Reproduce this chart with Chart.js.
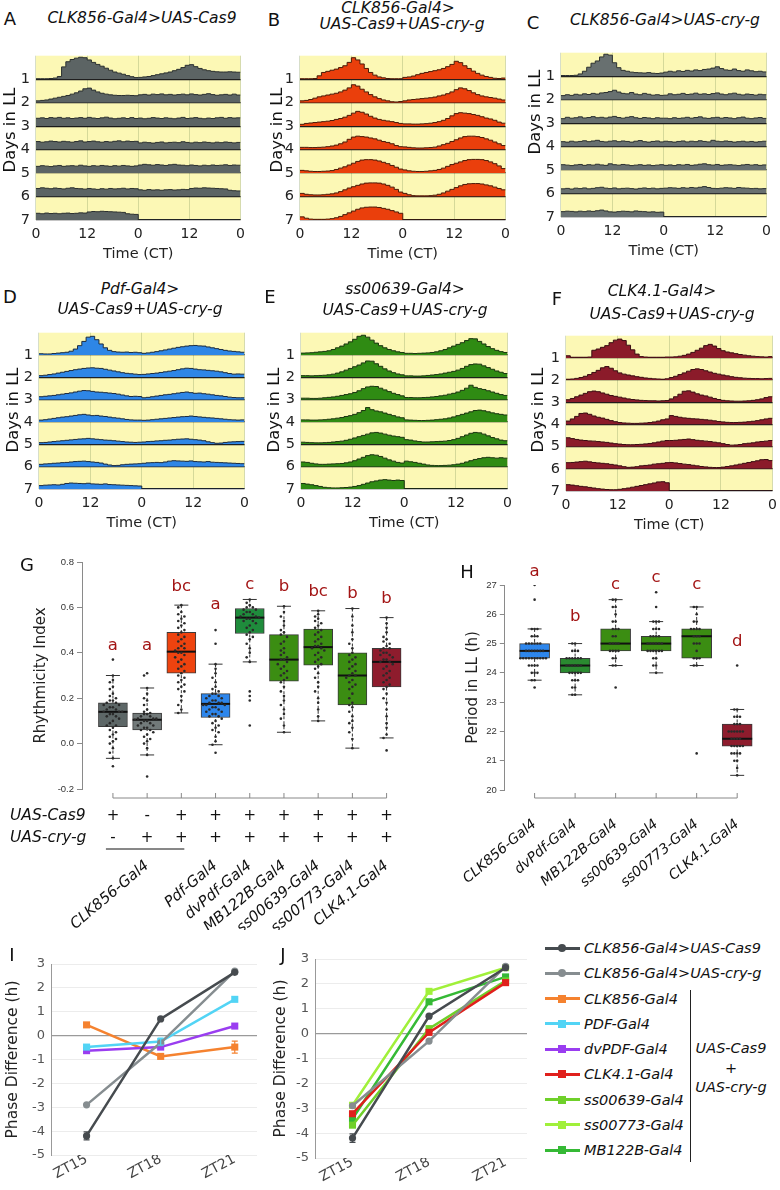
<!DOCTYPE html>
<html>
<head>
<meta charset="utf-8">
<title>Locomotor rhythms in LL</title>
<script src="https://cdn.jsdelivr.net/npm/chart.js@4.4.1/dist/chart.umd.min.js"></script>
<style>
  body { margin: 0; width: 780px; height: 1190px; position: relative; overflow: hidden; background: #fff;
         font-family: "DejaVu Sans", sans-serif; color: #111; }
  canvas { position: absolute; }
  .lbl { position: absolute; white-space: nowrap; transform: translate(-50%, -50%); line-height: 1; }
</style>
</head>
<body>
<script>
// ---- actograms: hourly activity, one array per day (days 1-7), double plotted ----
const timeTicks = [0, 12, 24, 36, 48];
const timeLabels = ['0', '12', '0', '12', '0'];
const rowLabels = ['1', '2', '3', '4', '5', '6', '7'];

const actoA = [
  [0.2,0.2,0.2,0.3,0.5,1.2,5.5,7.8,8.8,9.4,9.8,9.6,8.6,7.5,6.6,5.8,4.9,4.0,3.2,2.7,2.2,1.6,1.1,0.7],
  [0.8,1.0,1.2,1.6,2.0,2.4,2.8,3.2,3.8,4.4,5.2,6.2,6.5,5.6,4.8,4.2,3.8,3.5,3.3,3.2,3.2,3.3,3.2,3.1],
  [3.5,3.7,3.4,3.8,3.6,3.9,3.5,3.7,3.4,3.6,3.8,3.5,3.9,3.6,3.4,3.7,4.0,3.6,3.3,3.5,3.7,3.4,3.8,3.4],
  [3.6,3.3,3.5,3.8,3.6,3.4,3.7,3.5,3.3,3.6,3.9,3.4,3.6,3.8,3.5,3.3,3.6,3.4,3.7,3.9,3.5,3.8,3.6,3.7],
  [3.0,3.3,3.1,2.9,3.2,3.4,3.0,3.2,3.3,3.1,3.5,3.2,3.0,3.3,3.1,3.4,3.2,3.0,3.3,3.1,3.4,3.2,3.0,3.2],
  [3.6,3.9,3.7,3.5,3.8,3.6,3.4,3.7,3.9,3.6,3.5,3.3,3.6,3.4,3.2,3.5,3.3,3.6,3.4,3.5,3.7,3.4,3.6,3.5],
  [3.0,2.8,3.1,2.9,3.0,2.8,3.0,3.1,2.9,3.0,3.2,3.1,3.6,3.8,3.7,3.9,3.8,3.7,3.6,3.5,3.4,2.8,2.6,2.5]
];
const actoB = [
  [0.2,0.2,0.2,0.3,1.5,3.0,3.5,4.0,4.5,5.2,6.0,7.5,9.6,8.6,6.8,4.8,3.0,1.8,1.0,0.6,0.3,0.2,0.2,0.2],
  [0.8,1.0,1.4,2.0,2.6,3.0,3.4,3.8,4.2,4.8,5.6,6.6,8.0,7.4,6.0,4.8,3.6,2.6,1.8,1.2,0.8,0.4,0.3,0.5],
  [0.8,1.2,1.4,1.6,1.8,2.0,2.2,2.5,3.0,3.4,4.0,4.8,5.8,6.6,6.2,5.4,4.4,3.6,3.0,2.6,2.3,2.0,1.6,1.2],
  [1.0,1.0,0.9,0.9,1.0,1.1,1.3,1.6,2.0,2.6,3.4,4.6,5.6,6.0,5.8,5.6,5.2,4.8,4.2,3.6,3.2,2.6,1.8,1.3],
  [1.2,1.0,0.8,0.7,0.7,0.8,0.9,1.1,1.6,2.2,2.8,3.6,4.4,5.2,5.8,6.0,6.0,5.8,5.4,4.8,4.2,3.4,2.6,1.8],
  [1.4,1.0,0.8,0.7,0.7,0.8,1.0,1.2,1.6,2.2,3.0,3.8,4.4,5.0,5.6,6.0,6.1,6.1,6.0,5.6,5.0,4.2,3.2,2.0],
  [1.4,0.8,0.4,0.3,0.3,0.3,0.4,0.6,1.0,1.6,2.4,3.2,4.0,4.8,5.4,5.7,5.8,5.8,5.6,5.2,4.8,4.2,3.6,3.0]
];
const actoC = [
  [0.3,0.3,0.3,0.4,1.0,2.2,4.0,5.8,6.8,8.6,9.8,9.4,6.0,3.8,2.6,2.2,1.8,1.6,1.5,1.4,1.6,1.3,1.2,1.4],
  [1.8,2.2,1.9,2.4,2.1,2.6,2.3,2.8,2.5,3.0,3.2,3.6,4.2,3.4,2.8,2.6,3.2,2.5,2.2,2.8,2.4,2.0,2.2,1.9],
  [2.0,2.6,2.2,2.4,2.8,2.3,2.5,2.9,2.4,2.6,2.3,2.7,3.0,2.5,2.2,2.6,2.9,2.4,2.1,2.5,2.3,2.0,2.4,2.2],
  [2.2,2.0,2.4,2.1,2.3,2.6,2.2,2.5,2.8,2.3,2.1,2.4,2.6,2.2,2.5,2.3,2.0,2.4,2.7,2.2,2.0,2.3,2.5,2.1],
  [2.4,2.2,2.0,2.3,2.5,2.1,2.4,2.2,2.6,2.3,2.1,2.8,2.4,2.2,2.5,2.3,2.0,2.2,2.4,2.1,2.3,2.0,2.2,2.4],
  [2.1,2.3,2.0,2.4,2.2,2.5,2.1,2.3,2.6,2.8,2.4,2.2,2.5,2.1,2.3,2.4,2.2,2.0,2.3,2.5,2.2,2.4,2.1,2.3],
  [2.4,2.6,2.5,2.3,2.6,2.4,2.7,2.5,2.8,3.1,2.7,2.3,2.2,2.4,2.6,2.5,2.3,2.7,2.5,2.4,2.2,2.3,2.1,2.2]
];
const actoD = [
  [0.6,0.5,0.5,0.7,0.9,1.1,1.3,1.8,2.8,4.4,6.4,8.4,8.8,7.2,5.2,3.4,2.2,1.6,1.4,1.3,1.4,1.2,1.3,1.1],
  [0.8,1.0,1.3,1.6,2.0,2.4,2.8,3.2,3.6,3.9,4.2,4.4,4.5,4.3,4.2,3.8,3.4,3.0,2.6,2.2,1.9,1.7,1.5,1.3],
  [1.4,1.6,1.8,2.0,2.3,2.6,2.9,3.2,3.6,4.0,4.3,4.2,3.9,3.6,3.5,3.3,3.1,2.9,2.6,2.2,1.8,1.5,1.6,1.5],
  [0.9,1.1,1.4,1.7,2.0,2.3,2.5,2.8,3.1,3.4,3.6,3.3,3.0,3.1,2.8,2.6,2.3,2.0,1.8,1.5,1.2,1.0,0.9,0.9],
  [0.8,0.9,1.1,1.3,1.5,1.7,1.9,2.1,2.3,2.5,2.6,2.8,2.6,2.4,2.2,2.0,1.9,1.7,1.5,1.3,1.1,1.0,0.9,1.0],
  [1.1,1.3,1.4,1.6,1.7,1.9,2.0,2.2,2.4,2.5,2.6,2.4,2.2,2.0,1.7,1.2,0.8,0.5,0.6,0.9,1.1,1.2,1.3,1.4],
  [1.6,1.8,1.9,2.0,1.9,2.2,2.6,2.8,2.7,2.6,2.5,2.7,2.4,2.3,2.2,2.4,2.1,2.0,1.9,1.8,1.7,1.6,1.5,1.4]
];
const actoE = [
  [0.9,1.0,1.1,1.3,1.5,1.7,2.0,2.6,3.4,4.2,5.2,6.2,7.4,8.8,9.3,8.4,7.0,5.6,4.4,3.4,2.6,2.0,1.5,1.2],
  [0.8,0.8,0.7,0.8,0.9,1.0,1.2,1.5,2.0,2.6,3.4,4.2,5.0,5.8,6.8,7.7,7.6,6.4,5.2,4.0,3.0,2.2,1.6,1.2],
  [0.7,0.7,0.6,0.6,0.7,0.9,1.1,1.3,1.6,2.0,2.4,2.8,3.4,4.2,5.2,6.0,6.3,6.2,5.4,4.6,3.8,3.0,2.4,1.8],
  [1.0,1.0,0.9,0.9,1.0,1.1,1.3,1.5,1.8,2.1,2.6,3.0,3.6,4.4,5.4,6.8,5.8,5.2,4.8,4.2,3.6,3.0,2.4,2.0],
  [1.0,0.9,0.8,0.7,0.7,0.8,0.9,1.1,1.3,1.5,1.9,2.4,3.0,3.6,4.2,4.8,5.4,5.6,5.3,4.8,4.3,3.9,3.6,3.3],
  [2.2,2.0,1.6,1.3,1.1,1.1,1.2,1.3,1.4,1.5,1.8,2.2,2.8,3.6,4.4,5.2,5.6,5.4,4.8,4.0,3.2,2.6,2.0,1.7],
  [2.6,2.3,2.0,1.6,1.2,0.8,0.6,0.5,0.5,0.6,0.7,0.9,1.2,1.6,2.2,2.8,3.4,3.8,4.2,4.4,4.2,4.0,4.2,4.0]
];
const actoF = [
  [1.0,0.3,0.3,0.3,0.3,0.4,3.6,4.2,5.0,5.8,7.2,8.4,8.9,8.2,6.0,3.8,1.8,0.6,0.4,0.3,0.3,0.3,0.3,0.4],
  [0.4,0.5,0.8,1.2,1.8,2.6,3.6,4.6,5.8,6.4,5.6,4.4,3.4,2.8,2.4,2.0,1.6,1.3,1.0,0.8,0.6,0.5,0.4,0.6],
  [1.2,1.8,2.6,3.4,4.2,5.0,5.3,5.0,4.4,3.8,3.2,2.8,2.4,2.0,1.6,1.3,1.1,0.9,0.8,0.7,0.7,0.6,0.7,0.8],
  [1.6,2.6,3.8,5.2,5.4,4.8,4.0,3.4,3.0,2.4,1.8,1.3,0.9,0.7,0.6,0.5,0.5,0.6,0.7,0.9,1.2,1.6,2.2,2.6],
  [4.2,3.8,3.4,3.1,2.9,2.7,2.6,2.4,2.2,2.0,1.7,1.4,1.2,1.0,0.9,0.9,1.0,1.1,1.3,1.5,1.8,2.2,2.6,2.9],
  [2.9,3.0,3.2,3.4,3.6,3.3,3.0,2.8,2.6,2.4,2.1,1.8,1.4,1.0,0.7,0.8,1.0,1.4,1.6,1.8,2.2,2.4,2.6,2.9],
  [3.0,2.8,2.5,2.2,2.0,1.7,1.4,1.1,0.9,0.7,0.6,0.6,0.8,1.1,1.4,1.8,2.2,2.6,3.0,3.4,3.8,4.3,4.4,3.9]
];

// ---- G: rhythmicity index ----
const rhythmGroups = ['', 'CLK856-Gal4', '', 'Pdf-Gal4', 'dvPdf-Gal4', 'MB122B-Gal4', 'ss00639-Gal4', 'ss00773-Gal4', 'CLK4.1-Gal4'];
const rhythmCas9 = ['+', '-', '+', '+', '+', '+', '+', '+', '+'];
const rhythmCry = ['-', '+', '+', '+', '+', '+', '+', '+', '+'];
const rhythmQ1 = [0.075, 0.06, 0.31, 0.115, 0.485, 0.275, 0.345, 0.17, 0.25];
const rhythmMed = [0.14, 0.105, 0.405, 0.175, 0.555, 0.37, 0.425, 0.30, 0.36];
const rhythmQ3 = [0.18, 0.135, 0.49, 0.22, 0.595, 0.48, 0.505, 0.40, 0.42];
const rhythmLo = [-0.065, -0.05, 0.135, -0.005, 0.36, 0.05, 0.10, -0.02, 0.025];
const rhythmHi = [0.30, 0.245, 0.61, 0.35, 0.635, 0.605, 0.585, 0.595, 0.555];
const rhythmLetters = ['a', 'a', 'bc', 'a', 'c', 'b', 'bc', 'b', 'b'];
const rhythmLetterY = [0.43, 0.43, 0.69, 0.61, 0.70, 0.69, 0.67, 0.66, 0.64];
const rhythmPoints = [
  [0.37,0.30,0.28,0.27,0.25,0.24,0.22,0.21,0.20,0.19,0.19,0.18,0.18,0.17,0.17,0.16,0.16,0.15,0.15,0.14,0.14,0.14,0.13,0.13,0.12,0.12,0.11,0.10,0.09,0.08,0.08,0.07,0.06,0.05,0.04,0.03,0.02,0.01,0.0,-0.02,-0.04,-0.065,-0.10],
  [0.31,0.30,0.245,0.22,0.20,0.19,0.17,0.15,0.14,0.135,0.13,0.13,0.12,0.12,0.11,0.11,0.11,0.105,0.10,0.10,0.09,0.09,0.08,0.08,0.07,0.07,0.06,0.06,0.05,0.04,0.03,0.02,0.01,0.0,-0.02,-0.05,-0.145],
  [0.61,0.60,0.58,0.57,0.56,0.55,0.54,0.53,0.52,0.51,0.50,0.49,0.48,0.47,0.46,0.45,0.44,0.43,0.42,0.42,0.41,0.40,0.40,0.39,0.38,0.37,0.36,0.35,0.34,0.33,0.32,0.31,0.30,0.29,0.28,0.27,0.26,0.25,0.24,0.23,0.21,0.19,0.17,0.15,0.135],
  [0.50,0.44,0.35,0.33,0.31,0.29,0.27,0.25,0.24,0.23,0.22,0.22,0.21,0.21,0.20,0.20,0.19,0.19,0.18,0.18,0.18,0.17,0.17,0.17,0.16,0.16,0.15,0.15,0.14,0.14,0.13,0.13,0.12,0.12,0.11,0.10,0.09,0.08,0.07,0.06,0.05,0.03,0.01,-0.005,-0.04],
  [0.635,0.62,0.61,0.60,0.60,0.59,0.59,0.58,0.58,0.57,0.57,0.56,0.56,0.555,0.55,0.55,0.54,0.54,0.53,0.52,0.51,0.50,0.49,0.48,0.47,0.46,0.44,0.42,0.40,0.38,0.36,0.23,0.21,0.19,0.08],
  [0.605,0.58,0.56,0.54,0.52,0.50,0.49,0.48,0.47,0.45,0.44,0.42,0.41,0.40,0.39,0.38,0.37,0.37,0.36,0.35,0.34,0.33,0.32,0.31,0.30,0.29,0.28,0.27,0.25,0.23,0.21,0.19,0.17,0.15,0.13,0.11,0.08,0.05],
  [0.585,0.57,0.56,0.55,0.54,0.53,0.52,0.51,0.50,0.49,0.48,0.47,0.46,0.45,0.44,0.43,0.43,0.42,0.42,0.41,0.40,0.39,0.38,0.37,0.36,0.35,0.34,0.33,0.31,0.29,0.27,0.25,0.23,0.20,0.18,0.15,0.12,0.10],
  [0.595,0.56,0.52,0.49,0.46,0.44,0.42,0.40,0.39,0.38,0.37,0.36,0.35,0.34,0.33,0.32,0.31,0.30,0.30,0.29,0.28,0.27,0.26,0.25,0.24,0.22,0.20,0.18,0.17,0.16,0.14,0.12,0.10,0.09,0.07,0.05,0.02,-0.02],
  [0.555,0.53,0.51,0.49,0.47,0.46,0.45,0.44,0.43,0.42,0.42,0.41,0.40,0.40,0.39,0.39,0.38,0.37,0.37,0.36,0.36,0.35,0.34,0.33,0.32,0.31,0.30,0.29,0.28,0.27,0.26,0.25,0.24,0.22,0.20,0.18,0.15,0.12,0.09,0.07,0.04,0.025,-0.03]
];

// ---- H: period in LL ----
const periodGroups = ['CLK856-Gal4', 'dvPdf-Gal4', 'MB122B-Gal4', 'ss00639-Gal4', 'ss00773-Gal4', 'CLK4.1-Gal4'];
const periodQ1 = [24.5, 24.0, 24.75, 24.75, 24.5, 21.5];
const periodMed = [24.75, 24.25, 25.0, 25.0, 25.25, 21.75];
const periodQ3 = [25.0, 24.5, 25.5, 25.25, 25.5, 22.25];
const periodLo = [23.75, 23.25, 24.25, 24.0, 24.25, 20.5];
const periodHi = [25.5, 25.0, 26.5, 25.75, 26.25, 22.75];
const periodLetters = ['a', 'b', 'c', 'c', 'c', 'd'];
const periodLetterY = [27.45, 25.9, 27.0, 27.25, 27.0, 25.05];
const periodPoints = [
  [27,26.5,25.5,25.5,25.5,25.25,25.25,25.25,25,25,25,25,25,25,24.75,24.75,24.75,24.75,24.75,24.75,24.75,24.5,24.5,24.5,24.5,24.5,24.5,24.5,24.5,24.5,24.5,24.25,24.25,24.25,24.25,24,24,24,23.75,23.75,23.5],
  [25,25,24.75,24.75,24.75,24.5,24.5,24.5,24.5,24.5,24.5,24.25,24.25,24.25,24.25,24.25,24.25,24,24,24,24,24,23.75,23.75,23.75,23.5,23.5,23.25,23.25],
  [26.5,26.5,26.25,26.25,26,25.75,25.75,25.5,25.5,25.5,25.25,25.25,25,25,25,25,24.75,24.75,24.75,24.75,24.5,24.5,24.25,24.25,23.5],
  [26.75,26.25,25.75,25.75,25.75,25.5,25.5,25.5,25.25,25.25,25.25,25.25,25,25,25,25,25,25,24.75,24.75,24.75,24.75,24.75,24.75,24.5,24.5,24.25,24.25,24],
  [26.25,26.25,26,25.75,25.75,25.5,25.5,25.5,25.5,25.25,25.25,25.25,25,25,25,24.75,24.5,24.5,24.5,24.25,24.25,21.25],
  [24.25,22.75,22.75,22.5,22.5,22.5,22.25,22.25,22.25,22,22,22,22,22,22,21.75,21.75,21.75,21.75,21.5,21.5,21.5,21.5,21.5,21.25,21.25,21.25,21.25,21,21,20.75,20.5]
];

// ---- I / J: phase difference ----
const ztLabels = ['ZT15', 'ZT18', 'ZT21'];
const phaseCas9 = [-4.2, 0.7, 2.65];
const phaseCry = [-2.9, -0.3, 2.7];
const phaseCLK856 = [0.45, -0.87, -0.48];
const phasePDF = [-0.48, -0.25, 1.52];
const phaseDvPDF = [-0.63, -0.48, 0.4];
const phaseCLK41 = [-3.22, 0.05, 2.05];
const phaseSs00639 = [-3.68, 0.2, 2.12];
const phaseSs00773 = [-2.88, 1.7, 2.65];
const phaseMB122B = [-3.42, 1.28, 2.28];
const errCas9 = [0.17, 0.06, 0.05];
const errCLK856 = [0.05, 0.08, 0.25];
const errPDF = [0.05, 0.15, 0.06];

const legendNames = ['CLK856-Gal4>UAS-Cas9', 'CLK856-Gal4>UAS-cry-g', 'CLK856-Gal4', 'PDF-Gal4', 'dvPDF-Gal4',
                     'CLK4.1-Gal4', 'ss00639-Gal4', 'ss00773-Gal4', 'MB122B-Gal4'];

// ---- styles ----
const col = {
  cas9: '#464b4f', cry: '#868d90', clk856: '#f5822f', pdf: '#52d4f5', dvpdf: '#9a3df0',
  clk41: '#e0201c', ss639: '#6fd02a', ss773: '#a0f03a', mb122b: '#35b935'
};
const legendColors = [col.cas9, col.cry, col.clk856, col.pdf, col.dvpdf, col.clk41, col.ss639, col.ss773, col.mb122b];
const legendMarkers = ['circle', 'circle', 'rect', 'rect', 'rect', 'rect', 'rect', 'rect', 'rect'];
const rhythmColors = ['#5d6767', '#727a7a', '#ee430f', '#2d86ec', '#1f8c3c', '#3b8d12', '#3b8d12', '#3b8d12', '#8e1c2d'];
const periodColors = ['#2d86ec', '#2a8a30', '#3b8d12', '#3b8d12', '#3b8d12', '#8e1c2d'];

Chart.defaults.font.family = '"DejaVu Sans", sans-serif';
Chart.defaults.color = '#222';
Chart.defaults.animation = false;
Chart.defaults.plugins.legend.display = false;
Chart.defaults.plugins.tooltip.enabled = false;

function canvasAt(left, top, w, h) {
  const c = document.createElement('canvas');
  c.width = w; c.height = h;
  c.style.left = left + 'px'; c.style.top = top + 'px';
  c.style.width = w + 'px'; c.style.height = h + 'px';
  document.body.appendChild(c);
  return c;
}

function label(str, x, y, size, opts = {}) {
  const d = document.createElement('div');
  d.className = 'lbl';
  d.textContent = str;
  d.style.left = x + 'px';
  d.style.top = y + 'px';
  d.style.fontSize = size + 'px';
  if (opts.italic) d.style.fontStyle = 'italic';
  if (opts.color) d.style.color = opts.color;
  if (opts.rotate) d.style.transform = 'translate(-50%, -50%) rotate(' + opts.rotate + 'deg)';
  document.body.appendChild(d);
  return d;
}

// yellow LL background behind actograms
const yellowBg = {
  id: 'yellowBg',
  beforeDraw(chart) {
    const a = chart.chartArea, ctx = chart.ctx;
    ctx.save();
    ctx.fillStyle = '#fcf8b5';
    ctx.fillRect(a.left, a.top, a.right - a.left, a.bottom - a.top);
    ctx.restore();
  }
};

function actogram(rect, days, fill, edge) {
  const [L, T, R, B] = rect;
  const padL = 30, padR = 8, padT = 2, axisH = 46;
  const cv = canvasAt(L - padL, T - padT, R - L + padL + padR, B - T + padT + axisH);
  const scales = {
    x: {
      type: 'linear', min: 0, max: 48, offset: false,
      afterBuildTicks: s => { s.ticks = timeTicks.map(v => ({ value: v })); },
      afterFit: s => { s.height = axisH; },
      ticks: { callback: (v, i) => timeLabels[i], font: { size: 14 }, color: '#222', padding: 6, maxRotation: 0, autoSkip: false },
      grid: { color: 'rgba(140,160,100,0.35)', drawTicks: false },
      border: { display: false },
      title: { display: true, text: 'Time (CT)', font: { size: 14.5 }, color: '#222', padding: { top: 0, bottom: 3 } }
    }
  };
  // stacked row axes: the first one defined lands at the bottom, so add day 7 first
  for (let r = days.length - 1; r >= 0; r--) {
    scales['row' + r] = {
      type: 'linear', position: 'left', stack: 'rows', stackWeight: 1, min: 0, max: 10.5, z: 1,
      afterBuildTicks: s => { s.ticks = [{ value: 0 }]; },
      afterFit: s => { s.width = padL; },
      ticks: { callback: () => rowLabels[r], font: { size: 14.5 }, color: '#222', padding: 6 },
      grid: { color: '#1b1b1b', lineWidth: 1.2, drawTicks: false },
      border: { display: false }
    };
  }
  const datasets = days.map((day, r) => {
    const next = days[r + 1];
    const pts = day.map((v, h) => ({ x: h, y: v }));
    if (next) {
      next.forEach((v, h) => pts.push({ x: 24 + h, y: v }));
      pts.push({ x: 48, y: next[next.length - 1] });
    } else {
      pts.push({ x: 24, y: 0 }, { x: 48, y: 0 });
    }
    return { data: pts, yAxisID: 'row' + r, stepped: true, fill: 'origin', backgroundColor: fill,
             borderColor: edge, borderWidth: 1, pointRadius: 0 };
  });
  new Chart(cv, {
    type: 'line',
    data: { datasets },
    options: { responsive: false, devicePixelRatio: 1, layout: { padding: { left: 0, top: padT, right: padR, bottom: 0 } }, scales },
    plugins: [yellowBg]
  });
}

actogram([36, 43, 243, 220], actoA, '#5c6464', '#2b3030');
actogram([300, 43, 508, 220], actoB, '#ea3f0c', '#4b1a08');
actogram([561, 40, 769, 217], actoC, '#687070', '#2b3030');
actogram([39, 320, 247, 489], actoD, '#2e86e6', '#1c2b3f');
actogram([301, 320, 510, 489], actoE, '#2f8b13', '#1a3510');
actogram([566, 323, 775, 491], actoF, '#8b1b2a', '#3a0c12');

// beeswarm-like horizontal spread of the individual flies
function swarm(groups, bin, step) {
  const pts = [];
  groups.forEach((vals, g) => {
    const used = {};
    vals.forEach(v => {
      const k = Math.round(v / bin);
      const n = used[k] = (used[k] || 0) + 1;
      const side = n % 2 ? 1 : -1;
      pts.push({ x: g + side * Math.floor(n / 2) * step, y: v });
    });
  });
  return pts;
}

// whiskers, medians and significance letters for the box plots
function boxExtras(st) {
  return {
    id: 'boxExtras',
    beforeDatasetsDraw(chart) {
      const { ctx, scales: { x, y } } = chart;
      ctx.save();
      ctx.strokeStyle = '#333';
      ctx.lineWidth = 1;
      st.lo.forEach((lo, i) => {
        const px = x.getPixelForValue(i);
        ctx.setLineDash([3, 2]);
        ctx.beginPath();
        ctx.moveTo(px, y.getPixelForValue(st.hi[i]));
        ctx.lineTo(px, y.getPixelForValue(lo));
        ctx.stroke();
        ctx.setLineDash([]);
        [st.hi[i], lo].forEach(v => {
          const py = y.getPixelForValue(v);
          ctx.beginPath();
          ctx.moveTo(px - 7, py);
          ctx.lineTo(px + 7, py);
          ctx.stroke();
        });
      });
      ctx.restore();
    },
    afterDatasetDraw(chart, args) {
      if (args.index !== 0) return;
      const { ctx, scales: { x, y } } = chart;
      ctx.save();
      ctx.strokeStyle = '#111';
      ctx.lineWidth = 2;
      st.med.forEach((m, i) => {
        const px = x.getPixelForValue(i), py = y.getPixelForValue(m);
        ctx.beginPath();
        ctx.moveTo(px - st.half, py);
        ctx.lineTo(px + st.half, py);
        ctx.stroke();
      });
      ctx.restore();
    },
    afterDraw(chart) {
      const { ctx, chartArea: a, scales: { x, y } } = chart;
      ctx.save();
      ctx.fillStyle = '#a31515';
      ctx.font = '16.5px "DejaVu Sans"';
      ctx.textAlign = 'center';
      ctx.textBaseline = 'middle';
      st.letters.forEach((t, i) => ctx.fillText(t, x.getPixelForValue(i), y.getPixelForValue(st.letterY[i])));
      // R-style detached bottom axis with upward ticks
      const ya = a.bottom + st.axisGap;
      ctx.strokeStyle = '#888';
      ctx.lineWidth = 1;
      ctx.beginPath();
      ctx.moveTo(x.getPixelForValue(0), ya);
      ctx.lineTo(x.getPixelForValue(st.lo.length - 1), ya);
      st.lo.forEach((_, i) => {
        const px = x.getPixelForValue(i);
        ctx.moveTo(px, ya);
        ctx.lineTo(px, ya - 5);
      });
      ctx.stroke();
      ctx.restore();
    }
  };
}

function boxScales(xmin, xmax, yopt, leftW, bottomH, labels, tickPad, labelSize) {
  return {
    x: {
      type: 'linear', min: xmin, max: xmax, offset: false,
      afterBuildTicks: s => { s.ticks = labels.map((_, i) => ({ value: i })); },
      afterFit: s => { s.height = bottomH; },
      ticks: { callback: (v, i) => labels[i], minRotation: 40, maxRotation: 40, autoSkip: false,
               font: { size: labelSize, style: 'italic' }, color: '#111', padding: tickPad },
      grid: { display: false },
      border: { display: false }
    },
    y: Object.assign({
      afterFit: s => { s.width = leftW; },
      grid: { drawOnChartArea: false, tickLength: 5, color: '#8a8a8a' },
      border: { color: '#8a8a8a' }
    }, yopt)
  };
}

// G
const gPlus = {
  id: 'gPlus',
  afterDraw(chart) {
    const { ctx, chartArea: a, scales: { x } } = chart;
    ctx.save();
    ctx.fillStyle = '#111';
    ctx.textBaseline = 'middle';
    ctx.textAlign = 'center';
    ctx.font = '15px "DejaVu Sans"';
    rhythmCas9.forEach((s, i) => ctx.fillText(s, x.getPixelForValue(i), a.bottom + 27));
    rhythmCry.forEach((s, i) => ctx.fillText(s, x.getPixelForValue(i), a.bottom + 49));
    ctx.textAlign = 'left';
    ctx.font = 'italic 15.5px "DejaVu Sans"';
    ctx.fillText('UAS-Cas9', 10, a.bottom + 27);
    ctx.fillText('UAS-cry-g', 10, a.bottom + 49);
    ctx.strokeStyle = '#111';
    ctx.lineWidth = 1;
    ctx.beginPath();
    ctx.moveTo(x.getPixelForValue(0) - 7, a.bottom + 60);
    ctx.lineTo(x.getPixelForValue(2) + 3, a.bottom + 60);
    ctx.stroke();
    ctx.restore();
  }
};

new Chart(canvasAt(0, 550, 460, 380), {
  type: 'bar',
  data: {
    datasets: [
      { data: rhythmQ1.map((q, i) => ({ x: i, y: [q, rhythmQ3[i]] })), backgroundColor: rhythmColors,
        borderColor: '#3a3a3a', borderWidth: 1, borderSkipped: false, barThickness: 29, order: 2 },
      { type: 'scatter', data: swarm(rhythmPoints, 0.03, 0.09), pointRadius: 1.3,
        pointBackgroundColor: '#2a2a2a', pointBorderWidth: 0, order: 1 }
    ]
  },
  options: {
    responsive: false, devicePixelRatio: 1,
    layout: { padding: { top: 12, right: 20, left: 0, bottom: 0 } },
    scales: boxScales(-0.904, 8.904, {
      min: -0.2, max: 0.8,
      ticks: { stepSize: 0.2, callback: v => v.toFixed(1), font: { size: 9.5, family: '"Liberation Sans", sans-serif' }, color: '#333', padding: 3 },
      title: { display: true, text: 'Rhythmicity Index', font: { size: 15 }, color: '#222', padding: { top: 32, bottom: 0 } }
    }, 82, 141, rhythmGroups, 60, 15)
  },
  plugins: [boxExtras({ q1: rhythmQ1, med: rhythmMed, q3: rhythmQ3, lo: rhythmLo, hi: rhythmHi,
                        letters: rhythmLetters, letterY: rhythmLetterY, half: 14.5, axisGap: 9 }), gPlus]
});

// H (canvas starts left of the axis so the slanted labels have room)
new Chart(canvasAt(440, 560, 340, 330), {
  type: 'bar',
  data: {
    datasets: [
      { data: periodQ1.map((q, i) => ({ x: i, y: [q, periodQ3[i]] })), backgroundColor: periodColors,
        borderColor: '#3a3a3a', borderWidth: 1, borderSkipped: false, barThickness: 30, order: 2 },
      { type: 'scatter', data: swarm(periodPoints, 0.2, 0.07), pointRadius: 1.3,
        pointBackgroundColor: '#2a2a2a', pointBorderWidth: 0, order: 1 }
    ]
  },
  options: {
    responsive: false, devicePixelRatio: 1,
    layout: { padding: { top: 25, right: 10, left: 0, bottom: 0 } },
    scales: boxScales(-0.735, 5.81, {
      min: 20, max: 27,
      ticks: { stepSize: 1, font: { size: 9.5, family: '"Liberation Sans", sans-serif' }, color: '#333', padding: 3 },
      title: { display: true, text: 'Period in LL (h)', font: { size: 15 }, color: '#222', padding: { top: 22, bottom: 0 } }
    }, 63, 100, periodGroups, 18, 14)
  },
  plugins: [boxExtras({ q1: periodQ1, med: periodMed, q3: periodQ3, lo: periodLo, hi: periodHi,
                        letters: periodLetters, letterY: periodLetterY, half: 15, axisGap: 8 })]
});

// I and J
const errorBars = {
  id: 'errorBars',
  afterDatasetsDraw(chart) {
    const { ctx, scales: { x, y } } = chart;
    chart.data.datasets.forEach(ds => {
      if (!ds.errs) return;
      ctx.save();
      ctx.strokeStyle = ds.borderColor;
      ctx.lineWidth = 1.2;
      ds.data.forEach((p, i) => {
        const e = ds.errs[i];
        if (!e || e < 0.1) return;
        const px = x.getPixelForValue(p.x), t = y.getPixelForValue(p.y + e), b = y.getPixelForValue(p.y - e);
        ctx.beginPath();
        ctx.moveTo(px, t); ctx.lineTo(px, b);
        ctx.moveTo(px - 3, t); ctx.lineTo(px + 3, t);
        ctx.moveTo(px - 3, b); ctx.lineTo(px + 3, b);
        ctx.stroke();
      });
      ctx.restore();
    });
  }
};

function phaseChart(cv, series, xmin, xmax, leftW, padTop, bottomH, titlePad) {
  new Chart(cv, {
    type: 'line',
    data: {
      datasets: series.map(s => ({
        data: s.vals.map((v, i) => ({ x: i, y: v })),
        errs: s.errs,
        borderColor: s.color, backgroundColor: s.color, borderWidth: 2.5,
        pointStyle: s.marker, pointRadius: s.marker === 'circle' ? 3.6 : 5, pointBorderWidth: 0
      }))
    },
    options: {
      responsive: false, devicePixelRatio: 1,
      layout: { padding: { top: padTop, right: 2, left: 0, bottom: 0 } },
      scales: {
        x: {
          type: 'linear', min: xmin, max: xmax,
          afterBuildTicks: s => { s.ticks = ztLabels.map((_, i) => ({ value: i })); },
          afterFit: s => { s.height = bottomH; },
          ticks: { callback: (v, i) => ztLabels[i], minRotation: 28, maxRotation: 28, autoSkip: false,
                   font: { size: 14 }, color: '#444', padding: -12 },
          grid: { display: false },
          border: { display: false }
        },
        y: {
          min: -5, max: 3,
          afterFit: s => { s.width = leftW; },
          ticks: { stepSize: 1, font: { size: 13 }, color: '#555', padding: 6 },
          grid: { drawTicks: false, color: c => c.tick.value === 0 ? '#9a9a9a' : '#ececec', lineWidth: c => c.tick.value === 0 ? 1.3 : 1 },
          border: { color: '#999' },
          title: { display: true, text: 'Phase Difference (h)', font: { size: 15.5 }, color: '#222', padding: { top: titlePad, bottom: 0 } }
        }
      }
    },
    plugins: [errorBars]
  });
}

phaseChart(canvasAt(0, 945, 262, 245), [
  { vals: phaseCas9, errs: errCas9, color: col.cas9, marker: 'circle' },
  { vals: phaseCry, color: col.cry, marker: 'circle' },
  { vals: phasePDF, errs: errPDF, color: col.pdf, marker: 'rect' },
  { vals: phaseDvPDF, color: col.dvpdf, marker: 'rect' },
  { vals: phaseCLK856, errs: errCLK856, color: col.clk856, marker: 'rect' }
], -0.48, 2.3, 51, 19, 35, 4);

phaseChart(canvasAt(265, 940, 267, 250), [
  { vals: phaseCas9, errs: errCas9, color: col.cas9, marker: 'circle' },
  { vals: phaseCry, color: col.cry, marker: 'circle' },
  { vals: phaseCLK41, color: col.clk41, marker: 'rect' },
  { vals: phaseSs00639, color: col.ss639, marker: 'rect' },
  { vals: phaseMB122B, color: col.mb122b, marker: 'rect' },
  { vals: phaseSs00773, color: col.ss773, marker: 'rect' }
], -0.49, 2.28, 50, 19, 32, 7);

// legend for I/J
legendNames.forEach((name, i) => {
  const y = 948 + i * 25.25;
  const line = document.createElement('div');
  line.style.cssText = 'position:absolute;left:545px;width:35px;height:3px;top:' + (y - 1.5) + 'px;background:' + legendColors[i];
  document.body.appendChild(line);
  const mk = document.createElement('div');
  mk.style.cssText = 'position:absolute;left:558px;width:8px;height:8px;top:' + (y - 4) + 'px;background:' + legendColors[i] +
                     (legendMarkers[i] === 'circle' ? ';border-radius:50%' : '');
  document.body.appendChild(mk);
  const t = label(name, 584, y, 14.5, { italic: true });
  t.style.transform = 'translate(0, -50%)';
});
const bracket = document.createElement('div');
bracket.style.cssText = 'position:absolute;left:690px;top:990px;width:1px;height:172px;background:#222';
document.body.appendChild(bracket);
label('UAS-Cas9', 731, 1048, 14.5, { italic: true });
label('+', 731, 1068, 14.5, { italic: true });
label('UAS-cry-g', 731, 1087, 14.5, { italic: true });

// panel letters, titles and rotated axis labels
label('A', 10, 19, 18);
label('CLK856-Gal4>UAS-Cas9', 142, 19, 15.5, { italic: true });
label('B', 274, 20, 18);
label('CLK856-Gal4>', 398, 9, 15.5, { italic: true });
label('UAS-Cas9+UAS-cry-g', 402, 25, 15.5, { italic: true });
label('C', 533, 23, 18);
label('CLK856-Gal4>UAS-cry-g', 665, 21, 15.5, { italic: true });
label('D', 10, 297, 18);
label('Pdf-Gal4>', 140, 290, 15.5, { italic: true });
label('UAS-Cas9+UAS-cry-g', 140, 310, 15.5, { italic: true });
label('E', 270, 297, 18);
label('ss00639-Gal4>', 405, 290, 15.5, { italic: true });
label('UAS-Cas9+UAS-cry-g', 405, 311, 15.5, { italic: true });
label('F', 557, 299, 18);
label('CLK4.1-Gal4>', 662, 292, 15.5, { italic: true });
label('UAS-Cas9+UAS-cry-g', 672, 315, 15.5, { italic: true });
label('G', 27, 565, 18);
label('H', 467, 572, 18);
label('I', 12, 955, 18);
label('J', 283, 955, 18);

[[10, 130], [277, 130], [535, 112], [13, 410], [274, 410], [538, 410]].forEach(([x, y]) =>
  label('Days in LL', x, y, 16.5, { rotate: -90 }));
</script>
</body>
</html>
